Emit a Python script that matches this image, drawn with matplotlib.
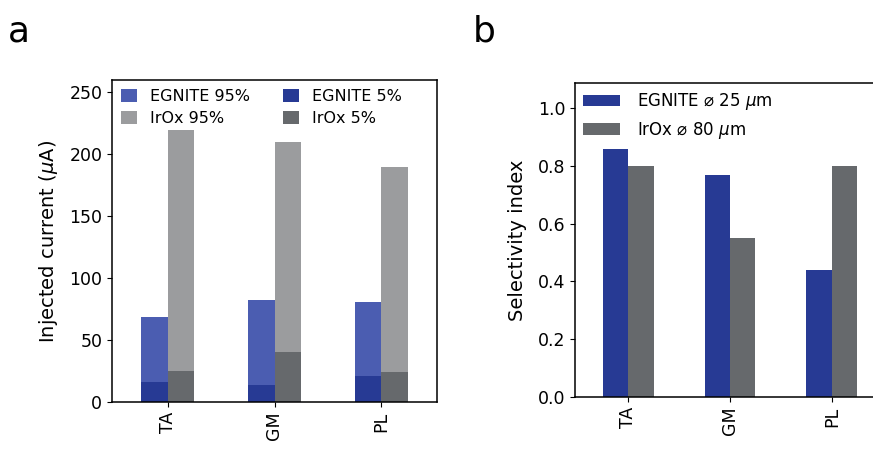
import numpy as np
import matplotlib
matplotlib.use("Agg")
from matplotlib import pyplot as plt

muscles = ["TA", "GM", "PL"]

# injected current (uA) at 95% / 5% selectivity thresholds
egnite_95 = [69, 82, 81]
egnite_5 = [16, 14, 21]
irox_95 = [220, 210, 190]
irox_5 = [25, 40, 24]

# selectivity index per muscle
sel_egnite = [0.86, 0.77, 0.44]
sel_irox = [0.80, 0.55, 0.80]

c_eg_light = "#4b5db1"
c_eg_dark = "#273a94"
c_ir_light = "#9b9c9e"
c_ir_dark = "#66696c"

plt.rcParams["font.size"] = 12.5

fig = plt.figure(figsize=(8.73, 4.5), dpi=100)
W, H = 873, 450
axa = fig.add_axes([112 / W, 1 - 402 / H, 325 / W, 322 / H])
axb = fig.add_axes([575 / W, 1 - 397 / H, 310 / W, 314 / H])

x = np.arange(len(muscles))
w = 0.25

# panel a: 5% bars drawn on top of the 95% bars
axa.bar(x - w / 2, egnite_95, w, color=c_eg_light, label="EGNITE 95%")
axa.bar(x + w / 2, irox_95, w, color=c_ir_light, label="IrOx 95%")
axa.bar(x - w / 2, egnite_5, w, color=c_eg_dark, label="EGNITE 5%")
axa.bar(x + w / 2, irox_5, w, color=c_ir_dark, label="IrOx 5%")
axa.set_xlim(-0.52, 2.52)
axa.set_ylim(0, 260)
axa.set_yticks([0, 50, 100, 150, 200, 250])
axa.set_xticks(x)
axa.set_xticklabels(muscles, rotation=90)
axa.set_ylabel("Injected current ($\\mu$A)", fontsize=14, labelpad=7)
axa.legend(ncol=2, frameon=False, loc="upper left", fontsize=11.5,
           handlelength=1.0, handleheight=0.9, borderaxespad=0.15,
           labelspacing=0.45, columnspacing=2.1, handletextpad=0.8)

# panel b
axb.bar(x - w / 2, sel_egnite, w, color=c_eg_dark, label="EGNITE \u2300 25 $\\mu$m")
axb.bar(x + w / 2, sel_irox, w, color=c_ir_dark, label="IrOx \u2300 80 $\\mu$m")
axb.set_xlim(-0.52, 2.52)
axb.set_ylim(0, 1.087)
axb.set_yticks([0.0, 0.2, 0.4, 0.6, 0.8, 1.0])
axb.set_xticks(x)
axb.set_xticklabels(muscles, rotation=90)
axb.set_ylabel("Selectivity index", fontsize=14, labelpad=8)
axb.legend(frameon=False, loc="upper left", fontsize=12,
           handlelength=2.2, borderaxespad=0.1, labelspacing=0.45,
           handletextpad=1.0)

for ax in (axa, axb):
    for s in ax.spines.values():
        s.set_linewidth(1.1)

fig.text(8 / W, 1 - 42 / H, "a", fontsize=26)
fig.text(473 / W, 1 - 42 / H, "b", fontsize=26)

fig.savefig("out.png", dpi=100)
